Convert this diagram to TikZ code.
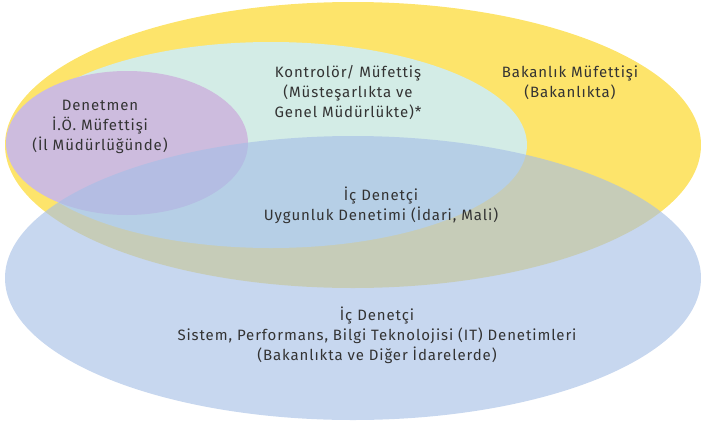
\documentclass[tikz,border=0pt]{standalone}
\usepackage{fontspec}
\setmainfont[LetterSpace=6]{Fira Sans}
\definecolor{yel}{HTML}{FDE46B}
\definecolor{tealc}{HTML}{D3ECE6}
\definecolor{purp}{HTML}{CDBCDE}
\definecolor{blu}{RGB}{166,191,230}
\definecolor{txt}{HTML}{333333}
\begin{document}
\begin{tikzpicture}[x=1pt,y=-1pt,
  lbl/.style={align=center, text=txt, font=\fontsize{15}{20}\selectfont, inner sep=0pt}]
\useasboundingbox (0,0) rectangle (701,426);
\fill[yel] (353,145) ellipse [x radius=348, y radius=143];
\fill[tealc] (271,145) ellipse [x radius=256, y radius=103];
\fill[purp] (127,143) ellipse [x radius=121, y radius=72];
\fill[blu, opacity=0.63] (353,278) ellipse [x radius=348, y radius=142];
\node[lbl] (den) at (100,127) {Denetmen\\İ.Ö. Müfettişi\\(İl Müdürlüğünde)};
\node[lbl] (kon) at (348,93) {Kontrolör/ Müfettiş\\(Müsteşarlıkta ve\\Genel Müdürlükte)*};
\node[lbl] (bak) at (570,83) {Bakanlık Müfettişi\\(Bakanlıkta)};
\node[lbl] (ic1) at (381,205) {İç Denetçi\\Uygunluk Denetimi (İdari, Mali)};
\node[lbl] (ic2) at (377,335) {İç Denetçi\\Sistem, Performans, Bilgi Teknolojisi (IT) Denetimleri\\(Bakanlıkta ve Diğer İdarelerde)};
\end{tikzpicture}
\end{document}
